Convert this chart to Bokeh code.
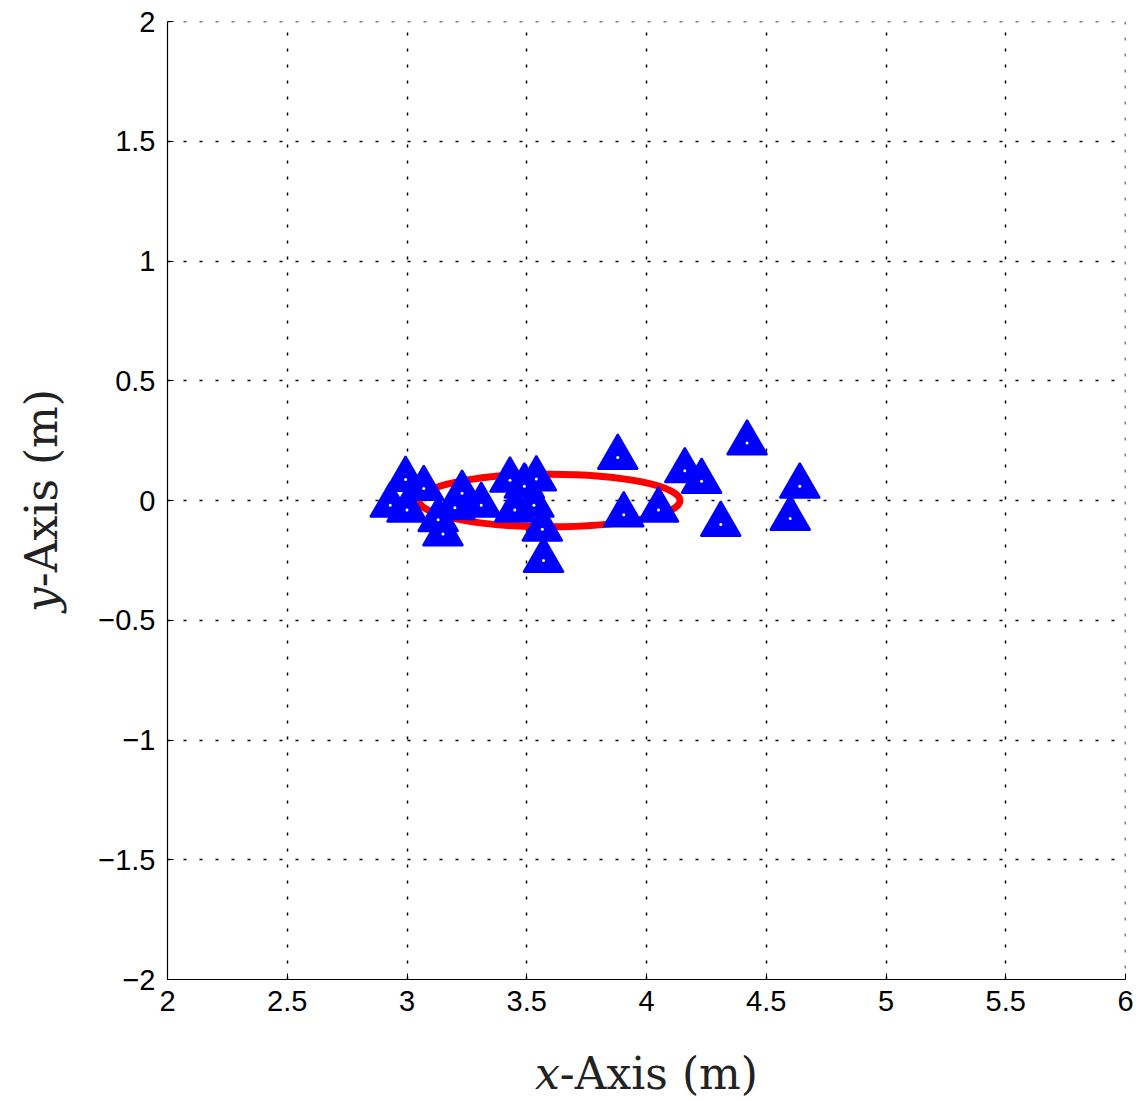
from bokeh.plotting import figure
from bokeh.models import Range1d, FixedTicker, Span
from bokeh.embed import file_html
from bokeh.resources import INLINE

# Measured landmark positions (m)
landmark_x = [2.994, 3.07, 2.93, 3.00, 3.23, 3.20, 3.31, 3.13, 3.15, 3.43, 3.49, 3.54,
              3.45, 3.53, 3.565, 3.57, 3.88, 3.905, 4.05, 4.16, 4.23, 4.42, 4.64, 4.60, 4.31]
landmark_y = [0.088, 0.05, -0.02, -0.04, 0.03, -0.03, -0.02, -0.08, -0.14, 0.085, 0.06, 0.09,
              -0.04, -0.02, -0.12, -0.25, 0.18, -0.06, -0.04, 0.124, 0.08, 0.24, 0.06, -0.075, -0.10]

# Uncertainty ellipse (centre and full axes, m)
ell_x = [3.595]
ell_y = [0.0]
ell_w = [1.09]
ell_h = [0.22]

x_ticks = [2, 2.5, 3, 3.5, 4, 4.5, 5, 5.5, 6]
y_ticks = [-2, -1.5, -1, -0.5, 0, 0.5, 1, 1.5, 2]
x_tick_labels = ["2", "2.5", "3", "3.5", "4", "4.5", "5", "5.5", "6"]
y_tick_labels = ["\u22122", "\u22121.5", "\u22121", "\u22120.5", "0", "0.5", "1", "1.5", "2"]

p = figure(width=1140, height=1101, output_backend="svg", toolbar_location=None,
           x_range=Range1d(x_ticks[0], x_ticks[-1]), y_range=Range1d(y_ticks[0], y_ticks[-1]),
           min_border_left=167, min_border_right=15, min_border_top=21, min_border_bottom=121)
p.outline_line_color = None
p.background_fill_color = "white"
p.border_fill_color = "white"

GRID_DASH = "3 13"

# dotted grid, including the lines on the upper and right limits
p.grid.ticker = None
p.xgrid.ticker = FixedTicker(ticks=x_ticks)
p.ygrid.ticker = FixedTicker(ticks=y_ticks)
p.grid.grid_line_color = "black"
p.grid.grid_line_dash = GRID_DASH
p.grid.grid_line_width = 1.5
p.add_layout(Span(location=y_ticks[-1], dimension="width", line_color="black",
                  line_dash=GRID_DASH, line_width=1.5, level="underlay"))
p.add_layout(Span(location=x_ticks[-1], dimension="height", line_color="black",
                  line_dash=GRID_DASH, line_width=1.5, level="underlay"))

p.ellipse(x=ell_x, y=ell_y, width=ell_w, height=ell_h, fill_color=None,
          line_color="#ff0000", line_width=7)

p.scatter(landmark_x, landmark_y, marker="triangle", size=40, fill_color="#0000ff",
          line_color="#0000ff", line_width=2)
p.scatter(landmark_x, landmark_y, marker="circle", size=3, fill_color="white",
          line_color=None)

for ax, ticks, labels in ((p.xaxis[0], x_ticks, x_tick_labels), (p.yaxis[0], y_ticks, y_tick_labels)):
    ax.ticker = FixedTicker(ticks=ticks)
    ax.major_label_overrides = {t: l for t, l in zip(ticks, labels)}
    ax.major_tick_in = 6
    ax.major_tick_out = 0
    ax.minor_tick_line_color = None
    ax.axis_line_color = "black"
    ax.axis_line_width = 1.2
    ax.major_tick_line_color = "black"
    ax.major_label_text_font = "Liberation Sans"
    ax.major_label_text_font_size = "29px"
    ax.major_label_text_color = "black"
    ax.axis_label_text_font = "DejaVu Serif"
    ax.axis_label_text_font_style = "normal"
    ax.axis_label_text_font_size = "44px"
    ax.axis_label_text_color = "#222222"

p.xaxis.major_label_standoff = 11
p.yaxis.major_label_standoff = 12
p.xaxis.axis_label = "\U0001D465-Axis (m)"
p.yaxis.axis_label = "\U0001D466-Axis (m)"
p.xaxis.axis_label_standoff = 34
p.yaxis.axis_label_standoff = 28

open("out.html", "w").write(file_html(p, INLINE))
